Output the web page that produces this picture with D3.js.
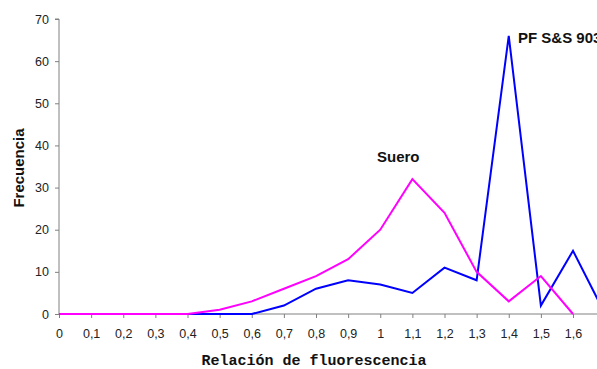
<!DOCTYPE html>
<html><head><meta charset="utf-8">
<script src="https://cdn.jsdelivr.net/npm/d3@7"></script>
<style>body{margin:0;background:#fff;} svg{display:block;}</style>
</head><body>
<svg id="c" width="597" height="369"></svg>
<script>
const categories = ["0","0,1","0,2","0,3","0,4","0,5","0,6","0,7","0,8","0,9","1","1,1","1,2","1,3","1,4","1,5","1,6","1,7"];
const suero = [0,0,0,0,0,1,3,6,9,13,20,32,24,10,3,9,0];
const pf903 = [0,0,0,0,0,0,0,2,6,8,7,5,11,8,66,2,15,0];
const yTicks = [0,10,20,30,40,50,60,70];

const svg = d3.select("#c");
const mLeft = 59, mTop = 19, mBottom = 314;
const x = d3.scaleLinear().domain([0,16]).range([mLeft, 573]);
const y = d3.scaleLinear().domain([0,70]).range([mBottom, mTop]);
const sans = "Arial, 'Liberation Sans', sans-serif";

// y axis
const ya = svg.append("g").attr("transform",`translate(${mLeft},0)`)
  .call(d3.axisLeft(y).tickValues(yTicks).tickSize(4).tickPadding(6));
ya.select(".domain").attr("stroke","#808080").attr("d",`M-4,${y(70)}H0V${mBottom}`);
ya.selectAll(".tick line").attr("stroke","#808080");
ya.selectAll("text").attr("font-family",sans).attr("font-size","12.5px").attr("fill","#222");

// x axis (labels only for visible categories)
const xa = svg.append("g").attr("transform",`translate(0,${mBottom})`)
  .call(d3.axisBottom(x).tickValues(d3.range(categories.length - 1)).tickFormat(i=>categories[i]).tickSize(4).tickPadding(11));
xa.select(".domain").attr("stroke","#808080").attr("d",`M${mLeft},0H597`);
xa.selectAll(".tick line").attr("stroke","#808080");
xa.selectAll("text").attr("font-family",sans).attr("font-size","12.5px").attr("fill","#222");

const line = d3.line().x((d,i)=>x(i)).y(d=>y(d));
svg.append("path").datum(pf903).attr("d",line).attr("fill","none").attr("stroke","#0000ff").attr("stroke-width",2);
svg.append("path").datum(suero).attr("d",line).attr("fill","none").attr("stroke","#ff00ff").attr("stroke-width",2);

// labels
svg.append("text").attr("x",377).attr("y",162).text("Suero")
  .attr("font-family",sans).attr("font-weight","bold").attr("font-size","15px").attr("fill","#111");
svg.append("text").attr("x",518).attr("y",43).text("PF S&S 903")
  .attr("font-family",sans).attr("font-weight","bold").attr("font-size","15px").attr("fill","#111");

svg.append("text").attr("transform","translate(24,168) rotate(-90)").attr("text-anchor","middle").text("Frecuencia")
  .attr("font-family",sans).attr("font-weight","bold").attr("font-size","15px").attr("fill","#111");
svg.append("text").attr("x",314).attr("y",365).attr("text-anchor","middle").text("Relación de fluorescencia")
  .attr("font-family","'Liberation Mono', 'Courier New', monospace").attr("font-weight","bold").attr("font-size","15px").attr("fill","#111");
</script>
</body></html>
